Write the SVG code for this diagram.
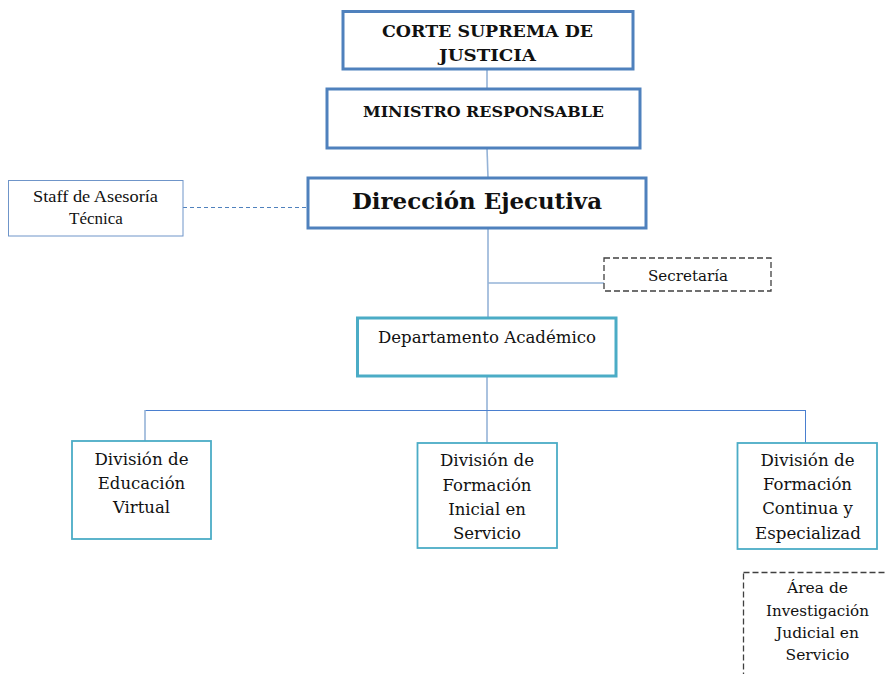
<svg xmlns="http://www.w3.org/2000/svg" width="885" height="674" viewBox="0 0 885 674">
<style>
  .top{fill:#fff;stroke:#4f81bd;stroke-width:3}
  .cyan{fill:#fff;stroke:#4bacc6;stroke-width:3}
  .div{fill:#fff;stroke:#4bacc6;stroke-width:1.8}
  .dash{fill:#fff;stroke:#404040;stroke-width:1.3;stroke-dasharray:6 3}
  .t{font-family:"DejaVu Serif","Liberation Serif",serif;fill:#111;text-anchor:middle}
  .b{font-weight:bold}
  .tr{font-family:"Liberation Serif","Times New Roman",serif;fill:#111;text-anchor:middle;font-size:17px}
  .c{fill:none;stroke:#95b3d7;stroke-width:1.6}
  .c2{fill:none;stroke:#4a7fcf;stroke-width:1}
</style>
<rect width="885" height="674" fill="#fff"/>
<g id="connectors">
  <line class="c" x1="487" y1="69" x2="487" y2="89"/>
  <line class="c" x1="487" y1="148" x2="488" y2="178"/>
  <line x1="183" y1="207.5" x2="308" y2="207.5" stroke="#4f81bd" stroke-width="1" stroke-dasharray="4 3"/>
  <line class="c" x1="488" y1="228" x2="488" y2="318"/>
  <line class="c" x1="488" y1="283" x2="604" y2="283"/>
  <line class="c" x1="487" y1="376" x2="487" y2="443"/>
  <line class="c2" x1="145" y1="410.5" x2="806" y2="410.5"/>
  <line class="c" x1="145" y1="410" x2="145" y2="441"/>
  <line class="c2" x1="805.5" y1="410" x2="805.5" y2="443"/>
</g>
<g id="corte">
  <rect class="top" x="343" y="11.5" width="290" height="57.5"/>
  <text class="t b" x="487.5" y="36.5" font-size="16" textLength="211" lengthAdjust="spacingAndGlyphs">CORTE SUPREMA DE</text>
  <text class="t b" x="487.5" y="60.5" font-size="16" textLength="97" lengthAdjust="spacingAndGlyphs">JUSTICIA</text>
</g>
<g id="ministro">
  <rect class="top" x="327" y="89" width="313" height="59"/>
  <text class="t b" x="483.5" y="117" font-size="15" textLength="241" lengthAdjust="spacingAndGlyphs">MINISTRO RESPONSABLE</text>
</g>
<g id="direccion">
  <rect class="top" x="308" y="178" width="338" height="50"/>
  <text class="t b" x="477" y="209" font-size="22.5" textLength="250" lengthAdjust="spacingAndGlyphs">Dirección Ejecutiva</text>
</g>
<g id="staff">
  <rect x="8.5" y="180.5" width="174.5" height="55.5" fill="#fff" stroke="#6f95c9" stroke-width="1"/>
  <text class="tr" x="95.5" y="202" textLength="125" lengthAdjust="spacingAndGlyphs">Staff de Asesoría</text>
  <text class="tr" x="96" y="224">Técnica</text>
</g>
<g id="secretaria">
  <rect class="dash" x="604" y="258" width="167" height="33"/>
  <text class="t" x="688" y="281" font-size="15.2" textLength="80" lengthAdjust="spacingAndGlyphs">Secretaría</text>
</g>
<g id="departamento">
  <rect class="cyan" x="357.5" y="318" width="258.5" height="58"/>
  <text class="t" x="487" y="342.5" font-size="16.5" textLength="218" lengthAdjust="spacingAndGlyphs">Departamento Académico</text>
</g>
<g id="educacion">
  <rect class="div" x="72" y="441" width="139" height="98"/>
  <text class="t" x="141.5" y="465" font-size="16.5" textLength="94" lengthAdjust="spacingAndGlyphs">División de</text>
  <text class="t" x="141.5" y="489" font-size="16.5">Educación</text>
  <text class="t" x="141.5" y="513" font-size="16.5">Virtual</text>
</g>
<g id="inicial">
  <rect class="div" x="417.5" y="443" width="139.5" height="105"/>
  <text class="t" x="487" y="466" font-size="16.5" textLength="94" lengthAdjust="spacingAndGlyphs">División de</text>
  <text class="t" x="487" y="491" font-size="16.5">Formación</text>
  <text class="t" x="487" y="515" font-size="16.5">Inicial en</text>
  <text class="t" x="487" y="539" font-size="16.5">Servicio</text>
</g>
<g id="continua">
  <rect class="div" x="737.5" y="443" width="139.5" height="106"/>
  <text class="t" x="807.5" y="466" font-size="16.5" textLength="94" lengthAdjust="spacingAndGlyphs">División de</text>
  <text class="t" x="807.5" y="490" font-size="16.5">Formación</text>
  <text class="t" x="807.5" y="514" font-size="16.5">Continua y</text>
  <text class="t" x="808" y="539" font-size="16.5" textLength="106" lengthAdjust="spacingAndGlyphs">Especializad</text>
</g>
<g id="area">
  <rect class="dash" x="743.5" y="572.5" width="150" height="110" stroke-dasharray="5 3"/>
  <text class="t" x="817.5" y="593" font-size="15.5">Área de</text>
  <text class="t" x="817.5" y="616" font-size="15.5" textLength="103" lengthAdjust="spacingAndGlyphs">Investigación</text>
  <text class="t" x="817.5" y="638" font-size="15.5">Judicial en</text>
  <text class="t" x="817.5" y="660" font-size="15.5">Servicio</text>
</g>
</svg>
